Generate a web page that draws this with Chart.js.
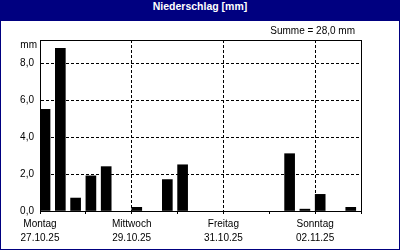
<!DOCTYPE html>
<html lang="de">
<head>
  <meta charset="UTF-8" />
  <title>Niederschlag</title>
  <script src="https://cdn.jsdelivr.net/npm/chart.js"></script>
  <style>
    body {
      margin: 0;
      background: #fff;
    }
    #frame {
      position: relative;
      width: 400px;
      height: 250px;
      background: #000080;
    }
    #title {
      height: 21px;
      line-height: 18px;
      color: #fff;
      font: bold 10.5px 'Liberation Sans', sans-serif;
      text-align: center;
    }
    #plot {
      position: absolute;
      left: 1px;
      top: 21px;
      width: 398px;
      height: 228px;
      background: #fff;
    }
  </style>
</head>
<body>
  <div id="frame">
    <div id="title">Niederschlag [mm]</div>
    <div id="plot"><canvas id="rainChart" width="398" height="228"></canvas></div>
  </div>

  <script>
    // 8-Stunden-Werte, 27.10.25 bis 02.11.25
    const rain = [
      5.5, 8.8, 0.7,
      1.9, 2.4, 0,
      0.2, 0, 1.7,
      2.5, 0, 0,
      0, 0, 0,
      0, 3.1, 0.1,
      0.9, 0, 0.2
    ];
    const dayNames = ['Montag', 'Mittwoch', 'Freitag', 'Sonntag'];
    const dayDates = ['27.10.25', '29.10.25', '31.10.25', '02.11.25'];
    const yTicks = [0, 2, 4, 6, 8];

    const total = rain.reduce((s, v) => s + v, 0);
    const fmt = v => v.toFixed(1).replace('.', ',');
    const font = { family: "'Liberation Sans', sans-serif", size: 10 };

    const textPlugin = {
      id: 'texts',
      afterDatasetsDraw(chart) {
        const ctx = chart.ctx;
        const a = chart.chartArea;
        ctx.save();
        ctx.strokeStyle = '#000';
        ctx.lineWidth = 1;
        ctx.strokeRect(a.left + 0.5, a.top + 0.5, a.right - a.left, a.bottom - a.top);
        ctx.fillStyle = '#000';
        ctx.font = "10px 'Liberation Sans', sans-serif";
        ctx.textBaseline = 'middle';
        ctx.textAlign = 'right';
        ctx.fillText('Summe = ' + fmt(total) + ' mm', 354, 10);
        ctx.fillText('mm', 36, 24);
        ctx.restore();
      }
    };

    new Chart(document.getElementById('rainChart'), {
      type: 'bar',
      data: {
        datasets: [{
          data: rain.map((v, i) => ({ x: i + 0.33, y: v > 0 ? v : null })),
          backgroundColor: '#000',
          borderWidth: 0,
          barThickness: 10
        }]
      },
      options: {
        responsive: false,
        animation: false,
        devicePixelRatio: 1,
        layout: { padding: { top: 19, right: 38, left: 0, bottom: 0 } },
        plugins: {
          legend: { display: false },
          tooltip: { enabled: false }
        },
        scales: {
          x: {
            type: 'linear',
            min: 0,
            max: 21,
            offset: false,
            afterFit(scale) { scale.height = 38; },
            grid: {
              offset: false,
              color: c => (c.tick && c.tick.value % 6 === 0 && c.tick.value > 0 && c.tick.value < 21) ? '#000' : 'rgba(0,0,0,0)',
              tickColor: '#000',
              tickLength: 3
            },
            border: { color: '#000', dash: [3, 2] },
            ticks: {
              stepSize: 3,
              autoSkip: false,
              maxRotation: 0,
              color: '#000',
              font: { ...font, lineHeight: 1.4 },
              padding: 3,
              callback: v => (v % 6 === 0 && v < 21) ? [dayNames[v / 6], dayDates[v / 6]] : ''
            }
          },
          y: {
            min: 0,
            max: 9.25,
            afterFit(scale) { scale.width = 39; },
            afterBuildTicks(scale) { scale.ticks = yTicks.map(v => ({ value: v })); },
            grid: {
              color: c => (c.tick && c.tick.value === 0) ? 'rgba(0,0,0,0)' : '#000',
              drawTicks: false
            },
            border: { color: '#000', dash: [3, 2] },
            ticks: {
              color: '#000',
              font: font,
              padding: 6,
              callback: v => fmt(v)
            }
          }
        }
      },
      plugins: [textPlugin]
    });
  </script>
</body>
</html>
